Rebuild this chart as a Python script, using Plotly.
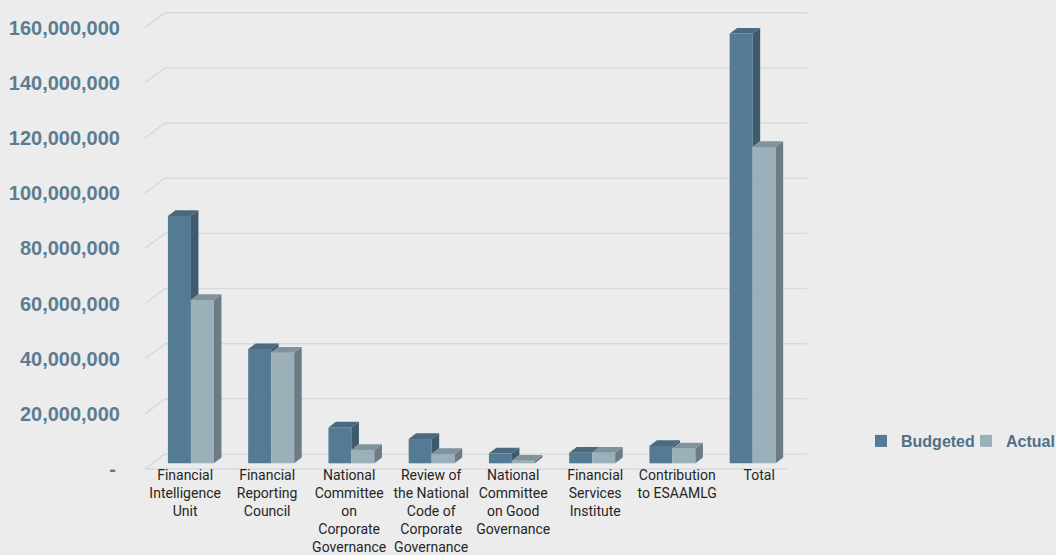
import plotly.graph_objects as go

# ---------------- data ----------------
categories = [
    "Financial<br>Intelligence<br>Unit",
    "Financial<br>Reporting<br>Council",
    "National<br>Committee<br>on<br>Corporate<br>Governance",
    "Review of<br>the National<br>Code of<br>Corporate<br>Governance",
    "National<br>Committee<br>on Good<br>Governance",
    "Financial<br>Services<br>Institute",
    "Contribution<br>to ESAAMLG",
    "Total",
]
budgeted = [89.7e6, 41.4e6, 13.0e6, 8.8e6, 3.6e6, 3.8e6, 6.3e6, 155.8e6]
actual = [59.2e6, 40.1e6, 4.8e6, 3.4e6, 0.9e6, 3.8e6, 5.4e6, 114.7e6]
y_tick_values = [0, 20e6, 40e6, 60e6, 80e6, 100e6, 120e6, 140e6, 160e6]
y_tick_labels = ["-\u2009", "20,000,000", "40,000,000", "60,000,000", "80,000,000",
                 "100,000,000", "120,000,000", "140,000,000", "160,000,000"]
series_names = ["Budgeted", "Actual"]

# ---------------- geometry / style ----------------
W, H = 1056, 555
PX_PER_CAT = 80.25          # front-plane pixels per category
PX_PER_UNIT = 2.758e-6      # pixels per value unit
PLOT_L, PLOT_R = 143, 809
PLOT_T, PLOT_B = 4, 471
FRONT_LEFT_PX = 145
ZERO_PX = 469
WALL_DX_PX, WALL_DY_PX = 20, 15       # depth of floor / side wall
BAR_DX_PX, BAR_DY_PX = 7.5, 5.7       # bar depth
BAR_SHIFT_X_PX, BAR_SHIFT_Y_PX = 5.8, 5.7  # bar front face sits inside the floor
BAR_W_PX = 23
LABEL_SPREAD = 1.022
XLABEL_RAISE_PX = 6.5
LEGEND_LEFT_PX, LEGEND_MID_PX = 861, 441

def px_x(p):
    return p / PX_PER_CAT

def px_y(p):
    return p / PX_PER_UNIT

n = len(categories)
x_min = -0.5 - px_x(FRONT_LEFT_PX - PLOT_L)
x_max = x_min + px_x(PLOT_R - PLOT_L)
y_min = -px_y(PLOT_B - ZERO_PX)
y_max = px_y(ZERO_PX - PLOT_T)

wall_dx, wall_dy = px_x(WALL_DX_PX), px_y(WALL_DY_PX)
bar_dx, bar_dy = px_x(BAR_DX_PX), px_y(BAR_DY_PX)
bar_shift = px_x(BAR_SHIFT_X_PX)
bar_base = px_y(BAR_SHIFT_Y_PX)
bar_w = px_x(BAR_W_PX)

BG = "#ececec"
GRID = "#d3dbe1"
B_FRONT, B_SIDE, B_TOP = "#557a94", "#3d5a6e", "#4b6a80"
A_FRONT, A_SIDE, A_TOP = "#9cb0ba", "#6a7c85", "#80939c"
TICK_COLOR = "#5b7c92"
LEGEND_COLOR = "#4f7088"

fig = go.Figure()

idx = list(range(n))

# front faces
fig.add_trace(go.Bar(
    x=idx, y=budgeted, base=bar_base, width=bar_w, offset=bar_shift - bar_w,
    name=series_names[0], marker=dict(color=B_FRONT, line=dict(width=0)),
))
fig.add_trace(go.Bar(
    x=idx, y=actual, base=bar_base, width=bar_w, offset=bar_shift,
    name=series_names[1], marker=dict(color=A_FRONT, line=dict(width=0)),
))

def poly_trace(polys, color):
    xs, ys = [], []
    for p in polys:
        for (a, b) in p:
            xs.append(a)
            ys.append(b)
        xs.append(p[0][0]); ys.append(p[0][1])
        xs.append(None); ys.append(None)
    return go.Scatter(x=xs, y=ys, mode="lines", fill="toself", fillcolor=color,
                      line=dict(width=0, color=color), showlegend=False, hoverinfo="skip")

b_side, b_top, a_side, a_top = [], [], [], []
for i in idx:
    vb = budgeted[i] + bar_base
    va = actual[i] + bar_base
    xl_b = i + bar_shift - bar_w
    xr_b = i + bar_shift
    xr_a = xr_b + bar_w
    if vb > va:
        b_side.append([(xr_b, va), (xr_b, vb), (xr_b + bar_dx, vb + bar_dy), (xr_b + bar_dx, va + bar_dy)])
    b_top.append([(xl_b, vb), (xr_b, vb), (xr_b + bar_dx, vb + bar_dy), (xl_b + bar_dx, vb + bar_dy)])
    a_side.append([(xr_a, bar_base), (xr_a, va), (xr_a + bar_dx, va + bar_dy), (xr_a + bar_dx, bar_base + bar_dy)])
    a_top.append([(xr_b, va), (xr_a, va), (xr_a + bar_dx, va + bar_dy), (xr_b + bar_dx, va + bar_dy)])

fig.add_trace(poly_trace(b_side, B_SIDE))
fig.add_trace(poly_trace(b_top, B_TOP))
fig.add_trace(poly_trace(a_side, A_SIDE))
fig.add_trace(poly_trace(a_top, A_TOP))

# walls: gridlines on left wall and back wall, plus floor front edge
shapes = []
for v in y_tick_values:
    path = (f"M {-0.5},{v} L {-0.5 + wall_dx},{v + wall_dy} "
            f"L {n - 0.5 + wall_dx},{v + wall_dy}")
    shapes.append(dict(type="path", xref="x", yref="y", path=path,
                       line=dict(color=GRID, width=1.5), layer="below"))
shapes.append(dict(type="line", xref="x", yref="y", x0=-0.5, x1=n - 0.5, y0=0, y1=0,
                   line=dict(color=GRID, width=1.5), layer="below"))

plot_w = PLOT_R - PLOT_L
plot_h = PLOT_B - PLOT_T

fig.update_layout(
    width=W, height=H,
    margin=dict(l=PLOT_L, r=W - PLOT_R, t=PLOT_T, b=H - PLOT_B, pad=0, autoexpand=False),
    paper_bgcolor=BG, plot_bgcolor=BG,
    font=dict(family="Roboto", color="#262626", size=14),
    barmode="overlay",
    shapes=shapes,
    showlegend=True,
    legend=dict(orientation="h", x=(LEGEND_LEFT_PX - PLOT_L) / plot_w, xanchor="left",
                y=(PLOT_B - LEGEND_MID_PX) / plot_h, yanchor="middle",
                font=dict(family="Liberation Sans", size=16, color=LEGEND_COLOR, weight="bold"),
                bgcolor="rgba(0,0,0,0)", itemwidth=30, traceorder="normal",
                entrywidth=60, entrywidthmode="pixels"),
)
fig.update_xaxes(
    range=[x_min, x_max], showgrid=False, zeroline=False, showline=False,
    tickmode="array", tickvals=[i * LABEL_SPREAD for i in idx], ticktext=categories,
    ticks="", tickangle=0, tickfont=dict(family="Roboto", size=14, color="#262626"),
    automargin=False, anchor="free", position=XLABEL_RAISE_PX / plot_h,
    fixedrange=True,
)
fig.update_yaxes(
    range=[y_min, y_max], showgrid=False, zeroline=False, showline=False,
    tickmode="array", tickvals=y_tick_values, ticktext=y_tick_labels,
    ticks="", ticklabelstandoff=22, automargin=False,
    tickfont=dict(family="Liberation Sans", size=20, color=TICK_COLOR, weight="bold"),
    fixedrange=True,
)

fig.write_html("out.html")
